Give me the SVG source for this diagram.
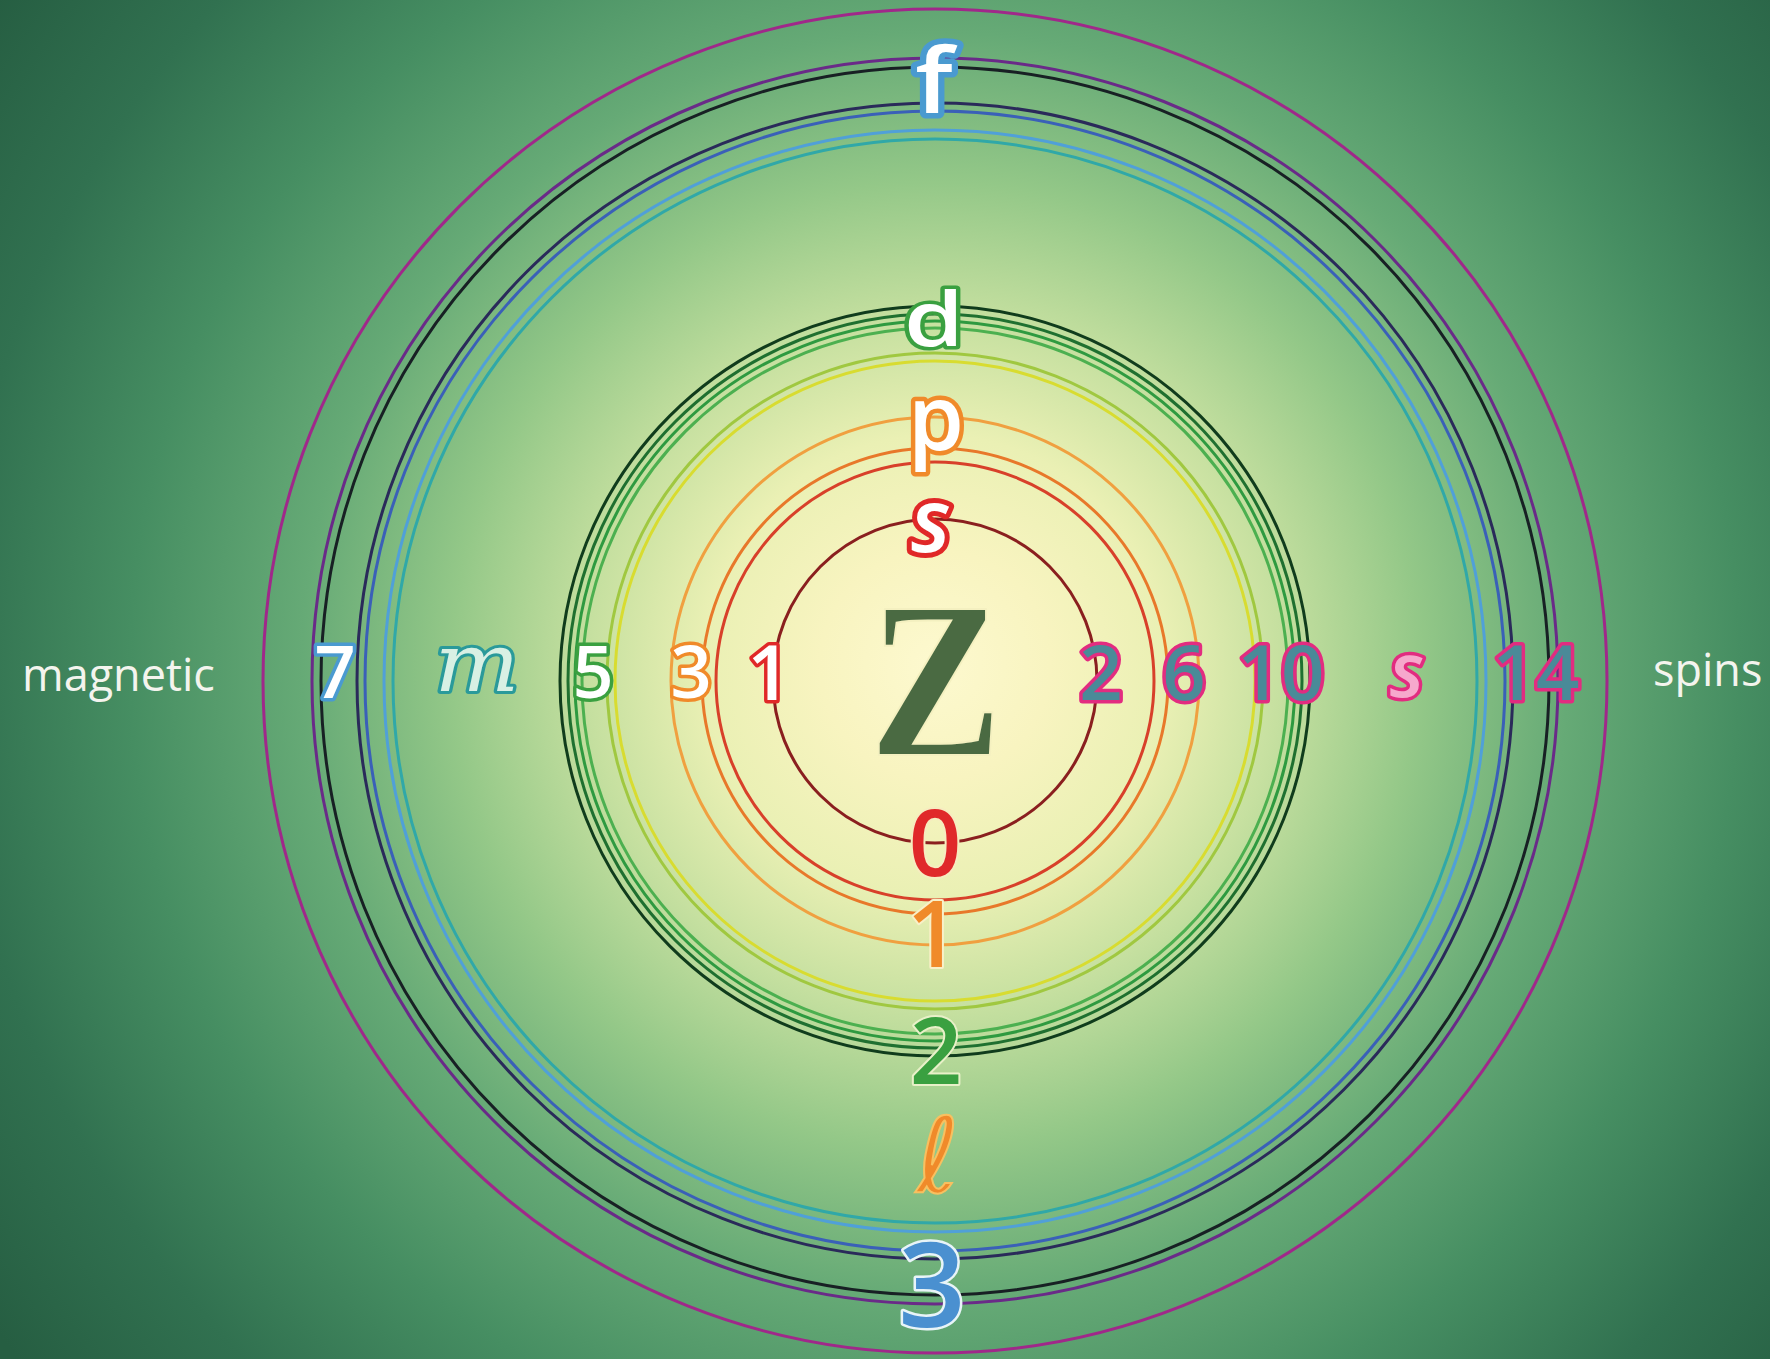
<svg xmlns="http://www.w3.org/2000/svg" width="1770" height="1359" viewBox="0 0 1770 1359">
  <defs>
    <radialGradient id="bg" gradientUnits="userSpaceOnUse" cx="935" cy="665" r="1150">
      <stop offset="0" stop-color="#fdf9cf"/>
      <stop offset="0.1" stop-color="#f8f4c0"/>
      <stop offset="0.2" stop-color="#eaf0b4"/>
      <stop offset="0.3" stop-color="#c6e0a0"/>
      <stop offset="0.42" stop-color="#94c888"/>
      <stop offset="0.55" stop-color="#66aa76"/>
      <stop offset="0.7" stop-color="#468e62"/>
      <stop offset="0.85" stop-color="#317150"/>
      <stop offset="1" stop-color="#265e42"/>
    </radialGradient>
  </defs>
  <style>
    .ring { fill: none; stroke-width: 3; }
    .lbl { font-family: "Open Sans", "Liberation Sans", sans-serif; font-weight: 600; text-anchor: middle; paint-order: stroke; stroke-linejoin: round; }
    .it { font-family: "DejaVu Serif", "Liberation Serif", serif; font-style: italic; text-anchor: middle; paint-order: stroke; stroke-linejoin: round; }
    .word { font-family: "Open Sans", "Liberation Sans", sans-serif; fill: #f4f4ee; font-size: 45px; }
    .right { fill: #4a8a98; stroke: #e22c80; stroke-width: 7; font-size: 76px; }
  </style>
  <rect width="1770" height="1359" fill="url(#bg)"/>

  <g id="connectors">
    <circle class="ring" cx="935" cy="681" r="162" stroke="#8a1f1f"/>
    <circle class="ring" cx="935" cy="681" r="219" stroke="#d8402a"/>
    <circle class="ring" cx="935" cy="681" r="233" stroke="#e8782a"/>
    <circle class="ring" cx="935" cy="681" r="264" stroke="#f0a040"/>
    <circle class="ring" cx="935" cy="681" r="320" stroke="#d8dc30"/>
    <circle class="ring" cx="935" cy="681" r="328" stroke="#a0c840"/>
    <circle class="ring" cx="935" cy="681" r="353" stroke="#4cb050"/>
    <circle class="ring" cx="935" cy="681" r="360" stroke="#2e9a40"/>
    <circle class="ring" cx="935" cy="681" r="367" stroke="#1f7030"/>
    <circle class="ring" cx="935" cy="681" r="375" stroke="#103c1c"/>
    <circle class="ring" cx="935" cy="681" r="542" stroke="#30a8a8"/>
    <circle class="ring" cx="935" cy="681" r="551" stroke="#50a0d8"/>
    <circle class="ring" cx="935" cy="681" r="570" stroke="#3a60b8"/>
    <circle class="ring" cx="935" cy="681" r="578" stroke="#2a2a5a"/>
    <circle class="ring" cx="935" cy="681" r="614" stroke="#182024"/>
    <circle class="ring" cx="935" cy="681" r="623" stroke="#6a2a88"/>
    <circle class="ring" cx="935" cy="681" r="672" stroke="#a0288a"/>
  </g>

  <g id="vertical-labels">
    <g id="lbl-f"><text class="lbl" transform="translate(934,113) scale(1.15,1)" x="0" y="0" font-size="90" font-weight="700" fill="#ffffff" stroke="#4a9ad0" stroke-width="11">f</text></g>
    <g id="lbl-d"><text class="lbl" transform="translate(934,346) scale(1,0.8)" x="0" y="0" font-size="96" fill="#ffffff" stroke="#3aa040" stroke-width="9">d</text></g>
    <g id="lbl-p"><text class="lbl" x="936" y="450" font-size="90" fill="#ffffff" stroke="#f08a2a" stroke-width="9">p</text></g>
    <g id="lbl-s-top"><text class="lbl" x="931" y="552" font-size="88" font-style="italic" fill="#ffffff" stroke="#e02828" stroke-width="10">s</text></g>
    <g id="lbl-0"><text class="lbl" x="935" y="876" font-size="92" fill="#e0282a" stroke="#f6ecc0" stroke-width="4">0</text></g>
    <g id="lbl-1b"><text class="lbl" x="933" y="967" font-size="92" fill="#f08a2a" stroke="#f8f0c8" stroke-width="4">1</text></g>
    <g id="lbl-2b"><text class="lbl" x="936" y="1084" font-size="92" fill="#3aa040" stroke="#e8f0c8" stroke-width="4">2</text></g>
    <g id="lbl-l"><text x="938" y="1192" font-family="DejaVu Sans, sans-serif" font-style="italic" font-size="104" text-anchor="middle" fill="#f08a2a" stroke="#f8c060" stroke-width="2">ℓ</text></g>
    <g id="lbl-3b"><text class="lbl" x="932" y="1327" font-size="118" fill="#4a90d0" stroke="#e8f4f8" stroke-width="5">3</text></g>
  </g>

  <g id="horizontal-labels">
    <g id="lbl-magnetic"><text class="word" x="22" y="691">magnetic</text></g>
    <g id="lbl-7"><text class="lbl" x="335" y="698" font-size="72" fill="#ffffff" stroke="#4a9ad0" stroke-width="7">7</text></g>
    <g id="lbl-m"><text class="it" transform="translate(477,691) scale(1.12,1)" x="0" y="0" font-size="80" fill="#d8f0e4" stroke="#2a9a9a" stroke-width="6">m</text></g>
    <g id="lbl-5"><text class="lbl" x="593" y="698" font-size="72" fill="#ffffff" stroke="#3aa040" stroke-width="7">5</text></g>
    <g id="lbl-3l"><text class="lbl" x="691" y="698" font-size="72" fill="#ffffff" stroke="#f08a2a" stroke-width="7">3</text></g>
    <g id="lbl-1l"><text class="lbl" x="769" y="700" font-size="76" fill="#ffffff" stroke="#e02828" stroke-width="7">1</text></g>
    <g id="lbl-Z"><text x="0" y="0" transform="translate(936,755) scale(0.9,1)" font-family="Liberation Serif, serif" font-weight="700" font-size="222" text-anchor="middle" fill="#4a6a42" stroke="#f4f0c0" stroke-width="2">Z</text></g>
    <g id="lbl-2r"><text class="lbl right" x="1101" y="700">2</text></g>
    <g id="lbl-6r"><text class="lbl right" x="1184" y="700">6</text></g>
    <g id="lbl-10r"><text class="lbl right" x="1281" y="700">10</text></g>
    <g id="lbl-s-right"><text class="lbl" x="1407" y="697" font-size="76" font-style="italic" fill="#f6a8cc" stroke="#e22c80" stroke-width="7">s</text></g>
    <g id="lbl-14r"><text class="lbl right" x="1536" y="700">14</text></g>
    <g id="lbl-spins"><text class="word" x="1653" y="686">spins</text></g>
  </g>
</svg>
